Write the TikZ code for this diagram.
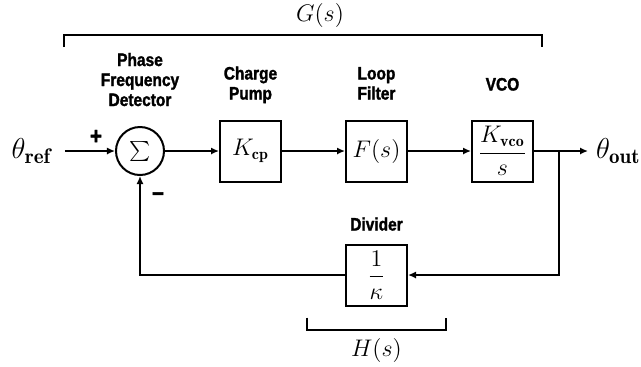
\documentclass[tikz,border=0pt]{standalone}
\usepackage{fontspec}
\newfontfamily\lblfont[FakeStretch=0.86, BoldFeatures={FakeBold=1.6}]{Liberation Sans}
\usetikzlibrary{arrows.meta,positioning,calc}

\begin{document}
\begin{tikzpicture}[
    x=1pt, y=1pt, line width=1pt,
    node distance=31.5pt and 31.5pt,
    block/.style={draw, minimum width=30.5pt, minimum height=30.5pt, inner sep=0pt, font=\fontsize{12}{14}\selectfont},
    sumnode/.style={draw, circle, minimum size=24pt, inner sep=0pt, font=\fontsize{14}{16}\selectfont},
    lbl/.style={font=\lblfont\bfseries\fontsize{9}{10}\selectfont, align=center, inner sep=0pt, text depth=0pt},
    io/.style={font=\fontsize{15}{18}\selectfont, inner sep=3.5pt},
    sig/.style={font=\lblfont\bfseries\fontsize{12}{12}\selectfont, inner sep=0pt},
    math/.style={font=\fontsize{12}{14}\selectfont, inner sep=0pt},
    arrow/.style={-{Latex[length=4pt,width=3.6pt]}}
]
\useasboundingbox (-70,-107.5) rectangle (250.5,75.5);

% forward path
\node[sumnode] (sum) at (0,0) {$\sum$};
\node[block, right=27pt of sum] (kcp) {$K_{\mathbf{cp}}$};
\node[block, right=of kcp] (filter) {$F(s)$};
\node[block, right=of filter] (vco) {$\displaystyle\frac{K_{\mathbf{vco}}}{s}$};
\node[io, inner sep=6.5pt, left=25pt of sum] (ref) {$\theta_{\mathbf{ref}}$};
\node[io, right=27pt of vco] (out) {$\theta_{\mathbf{out}}$};
\coordinate[right=12.5pt of vco.east] (split);

% feedback path
\node[block, below=30.5pt of filter] (div) {$\displaystyle\frac{1}{\kappa}$};

% block labels
\node[lbl, above=9.5pt of sum] (pfdlbl) {Phase\\Frequency\\Detector};
\node[lbl, above=9.5pt of kcp] (kcplbl) {Charge\\Pump};
\node[lbl, above=9.5pt of filter] (filterlbl) {Loop\\Filter};
\node[lbl, above=14pt of vco] (vcolbl) {VCO};
\node[lbl, above=6pt of div] (divlbl) {Divider};

% signs
\node[sig] (plus) at ($(sum.west)+(-9.5,7)$) {+};
\node[sig] (minus) at ($(sum.south)+(9,-10.5)$) {−};

\draw[arrow] (ref) -- (sum);
\draw[arrow] (sum) -- (kcp);
\draw[arrow] (kcp) -- (filter);
\draw[arrow] (filter) -- (vco);
\draw[arrow] (vco) -- (out);
\draw[arrow] (split) |- (div.east);
\draw[arrow] (div.west) -| (sum.south);

% brackets
\coordinate (gl) at (-38,52);
\coordinate (gr) at (201,52);
\draw (gl) -- ++(0,6) -| (gr);
\node[math] (glbl) at (90,68) {$G(s)$};
\coordinate (hl) at ($(div.south)+(-34.75,-5.5)$);
\coordinate (hr) at ($(div.south)+(34.75,-5.5)$);
\draw (hl) -- ++(0,-6) -| (hr);
\node[math] (hlbl) at ($(div.south)+(0,-21.75)$) {$H(s)$};
\end{tikzpicture}
\end{document}
